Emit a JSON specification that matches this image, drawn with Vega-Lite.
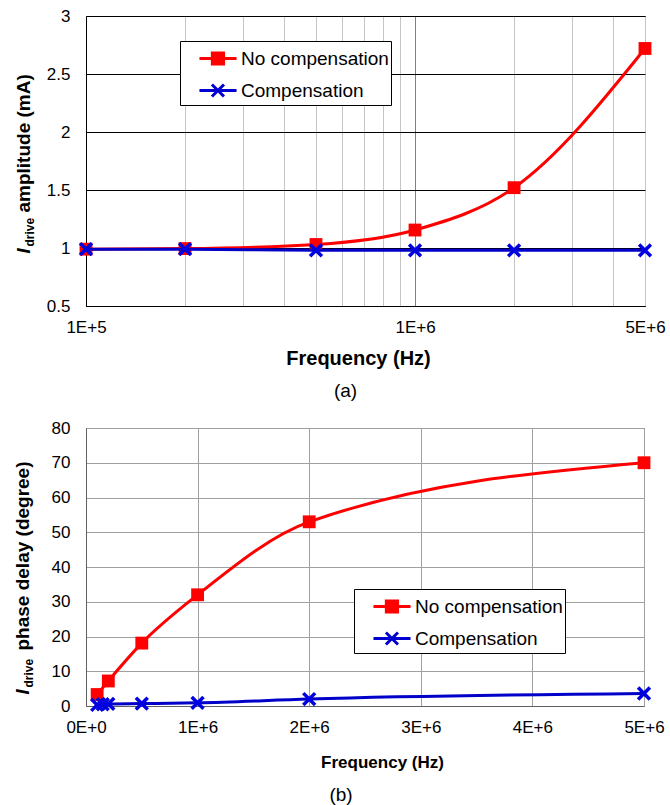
{
  "$schema": "https://vega.github.io/schema/vega-lite/v6.json",
  "padding": {"left": 12, "top": 6, "right": 2, "bottom": 0},
  "spacing": 16,
  "resolve": {
    "scale": {"fill": "independent", "stroke": "independent", "shape": "independent"},
    "legend": {"fill": "independent", "stroke": "independent", "shape": "independent"}
  },
  "datasets": {
    "amp": [
      {"f": 100000, "amp": 0.99, "series": "No compensation"},
      {"f": 200000, "amp": 0.995, "series": "No compensation"},
      {"f": 500000, "amp": 1.03, "series": "No compensation"},
      {"f": 1000000, "amp": 1.155, "series": "No compensation"},
      {"f": 2000000, "amp": 1.52, "series": "No compensation"},
      {"f": 5000000, "amp": 2.72, "series": "No compensation"},
      {"f": 100000, "amp": 0.99, "series": "Compensation"},
      {"f": 200000, "amp": 0.99, "series": "Compensation"},
      {"f": 500000, "amp": 0.98, "series": "Compensation"},
      {"f": 1000000, "amp": 0.98, "series": "Compensation"},
      {"f": 2000000, "amp": 0.98, "series": "Compensation"},
      {"f": 5000000, "amp": 0.98, "series": "Compensation"}
    ],
    "phase": [
      {"f": 100000, "phase": 3.3, "series": "No compensation"},
      {"f": 200000, "phase": 7.2, "series": "No compensation"},
      {"f": 500000, "phase": 18.1, "series": "No compensation"},
      {"f": 1000000, "phase": 32, "series": "No compensation"},
      {"f": 2000000, "phase": 53, "series": "No compensation"},
      {"f": 5000000, "phase": 70, "series": "No compensation"},
      {"f": 100000, "phase": 0.3, "series": "Compensation"},
      {"f": 150000, "phase": 0.5, "series": "Compensation"},
      {"f": 200000, "phase": 0.6, "series": "Compensation"},
      {"f": 500000, "phase": 0.7, "series": "Compensation"},
      {"f": 1000000, "phase": 0.9, "series": "Compensation"},
      {"f": 2000000, "phase": 2.0, "series": "Compensation"},
      {"f": 5000000, "phase": 3.6, "series": "Compensation"}
    ]
  },
  "vconcat": [
    {
      "width": 559,
      "height": 290,
      "view": {"stroke": "black", "strokeWidth": 1},
      "title": {"text": "(a)", "orient": "bottom", "anchor": "middle", "frame": "group", "fontSize": 19, "fontWeight": "normal", "offset": 14, "dx": -20, "color": "black"},
      "data": {"name": "amp"},
      "encoding": {
        "x": {
          "field": "f", "type": "quantitative",
          "scale": {"type": "log", "domain": [100000, 5000000], "nice": false},
          "axis": {
            "values": [100000, 200000, 300000, 400000, 500000, 600000, 700000, 800000, 900000, 1000000, 2000000, 3000000, 4000000, 5000000],
            "labelExpr": "datum.value == 100000 ? '1E+5' : datum.value == 1000000 ? '1E+6' : datum.value == 5000000 ? '5E+6' : ''",
            "labelOverlap": false, "labelFlush": false, "labelBound": false,
            "grid": true,
            "gridColor": {"condition": {"test": "datum.value == 1000000", "value": "#808080"}, "value": "#C4C4C4"},
            "ticks": false, "domainColor": "black",
            "labelFontSize": 17, "labelPadding": 13, "labelColor": "black",
            "title": "Frequency (Hz)", "titleFontSize": 20, "titlePadding": 13, "titleColor": "black", "titleX": 272
          }
        }
      },
      "layer": [
        {
          "transform": [{"filter": "datum.series == 'No compensation'"}],
          "mark": {"type": "line", "interpolate": "monotone", "color": "#FF0000", "strokeWidth": 3},
          "encoding": {
            "y": {
              "field": "amp", "type": "quantitative",
              "scale": {"domain": [0.5, 3], "nice": false, "zero": false},
              "axis": {
                "orient": "left", "values": [0.5, 1, 1.5, 2, 2.5, 3], "format": "~g",
                "grid": true, "gridColor": "black", "ticks": false, "domainColor": "black",
                "labelFontSize": 17, "labelPadding": 16, "labelColor": "black",
                "title": "amplitude (mA)", "titleFontSize": 19, "titleColor": "black",
                "titleAngle": -90, "titleAlign": "left", "titleBaseline": "alphabetic",
                "titleX": -57, "titleY": 196
              }
            }
          }
        },
        {
          "transform": [{"filter": "datum.series == 'No compensation'"}],
          "mark": {"type": "point", "shape": "square", "filled": true, "color": "#FF0000", "size": 165, "opacity": 1},
          "encoding": {
            "y": {
              "field": "amp", "type": "quantitative",
              "scale": {"domain": [0.5, 3], "nice": false, "zero": false},
              "axis": {
                "orient": "left", "labels": false, "ticks": false, "domain": false, "grid": false,
                "title": "I", "titleFontSize": 19, "titleFontStyle": "italic", "titleColor": "black",
                "titleAngle": -90, "titleAlign": "left", "titleBaseline": "alphabetic",
                "titleX": -57, "titleY": 237
              }
            }
          }
        },
        {
          "transform": [{"filter": "datum.series == 'Compensation'"}],
          "mark": {"type": "line", "interpolate": "monotone", "color": "#0000C8", "strokeWidth": 3},
          "encoding": {
            "y": {
              "field": "amp", "type": "quantitative",
              "scale": {"domain": [0.5, 3], "nice": false, "zero": false},
              "axis": {
                "orient": "left", "labels": false, "ticks": false, "domain": false, "grid": false,
                "title": "drive", "titleFontSize": 12, "titleColor": "black",
                "titleAngle": -90, "titleAlign": "left", "titleBaseline": "alphabetic",
                "titleX": -53, "titleY": 230
              }
            }
          }
        },
        {
          "transform": [{"filter": "datum.series == 'Compensation'"}],
          "mark": {"type": "point", "shape": "M-1,-1L1,1M-1,1L1,-1", "filled": false, "color": "#0000E0", "strokeWidth": 3.5, "size": 140, "opacity": 1},
          "encoding": {
            "y": {
              "field": "amp", "type": "quantitative",
              "scale": {"domain": [0.5, 3], "nice": false, "zero": false},
              "axis": null
            }
          }
        },
        {
          "transform": [{"filter": "false"}],
          "mark": {"type": "point", "filled": true, "opacity": 1},
          "encoding": {
            "fill": {
              "field": "series", "type": "nominal",
              "scale": {"domain": ["No compensation", "Compensation"], "range": ["#FF0000", "#0000D0"]},
              "legend": {
                "orient": "none", "legendX": 94, "legendY": 25, "title": null,
                "symbolSize": 784, "symbolStrokeWidth": 3,
                "labelFontSize": 19, "labelColor": "black", "labelOffset": 28, "labelLimit": 400,
                "labelExpr": "datum.label + '\u00a0\u00a0'",
                "rowPadding": 4, "padding": 2, "strokeColor": "black", "fillColor": "white"
              }
            },
            "stroke": {
              "field": "series", "type": "nominal",
              "scale": {"domain": ["No compensation", "Compensation"], "range": ["#FF0000", "#0000D0"]},
              "legend": {
                "orient": "none", "legendX": 94, "legendY": 25, "title": null,
                "symbolSize": 784, "symbolStrokeWidth": 3,
                "labelFontSize": 19, "labelColor": "black", "labelOffset": 28, "labelLimit": 400,
                "labelExpr": "datum.label + '\u00a0\u00a0'",
                "rowPadding": 4, "padding": 2, "strokeColor": "black", "fillColor": "white"
              }
            },
            "shape": {
              "field": "series", "type": "nominal",
              "scale": {"domain": ["No compensation", "Compensation"], "range": ["M0.14,0H2.79M1.06,-0.4H1.86V0.4H1.06Z", "M0.14,0H2.79M1.03,-0.43L1.89,0.43M1.03,0.43L1.89,-0.43"]},
              "legend": {
                "orient": "none", "legendX": 94, "legendY": 25, "title": null,
                "symbolSize": 784, "symbolStrokeWidth": 3,
                "labelFontSize": 19, "labelColor": "black", "labelOffset": 28, "labelLimit": 400,
                "labelExpr": "datum.label + '\u00a0\u00a0'",
                "rowPadding": 4, "padding": 2, "strokeColor": "black", "fillColor": "white"
              }
            }
          }
        }
      ],
      "resolve": {"scale": {"y": "independent"}}
    },
    {
      "width": 558,
      "height": 278,
      "view": {"stroke": "#707070", "strokeWidth": 1},
      "title": {"text": "(b)", "orient": "bottom", "anchor": "middle", "frame": "group", "fontSize": 19, "fontWeight": "normal", "offset": 16, "dx": -24, "color": "black"},
      "data": {"name": "phase"},
      "encoding": {
        "x": {
          "field": "f", "type": "quantitative",
          "scale": {"domain": [0, 5000000], "nice": false, "zero": true},
          "axis": {
            "values": [0, 1000000, 2000000, 3000000, 4000000, 5000000],
            "labelExpr": "datum.value == 0 ? '0E+0' : format(datum.value / 1000000, 'd') + 'E+6'",
            "labelOverlap": false, "labelFlush": false, "labelBound": false,
            "grid": true, "gridColor": "#A0A0A0",
            "ticks": false, "domainColor": "#606060",
            "labelFontSize": 17, "labelPadding": 13, "labelColor": "black",
            "title": "Frequency (Hz)", "titleFontSize": 17, "titlePadding": 19, "titleColor": "black", "titleX": 296
          }
        }
      },
      "layer": [
        {
          "transform": [{"filter": "datum.series == 'No compensation'"}],
          "mark": {"type": "line", "interpolate": "monotone", "color": "#FF0000", "strokeWidth": 3},
          "encoding": {
            "y": {
              "field": "phase", "type": "quantitative",
              "scale": {"domain": [0, 80], "nice": false},
              "axis": {
                "orient": "left", "values": [0, 10, 20, 30, 40, 50, 60, 70, 80],
                "grid": true, "gridColor": "#A0A0A0", "ticks": false, "domainColor": "#606060",
                "labelFontSize": 17, "labelPadding": 16, "labelColor": "black",
                "title": "phase delay (degree)", "titleFontSize": 19, "titleColor": "black",
                "titleAngle": -90, "titleAlign": "left", "titleBaseline": "alphabetic",
                "titleX": -58, "titleY": 222
              }
            }
          }
        },
        {
          "transform": [{"filter": "datum.series == 'No compensation'"}],
          "mark": {"type": "point", "shape": "square", "filled": true, "color": "#FF0000", "size": 165, "opacity": 1},
          "encoding": {
            "y": {
              "field": "phase", "type": "quantitative",
              "scale": {"domain": [0, 80], "nice": false},
              "axis": {
                "orient": "left", "labels": false, "ticks": false, "domain": false, "grid": false,
                "title": "I", "titleFontSize": 19, "titleFontStyle": "italic", "titleColor": "black",
                "titleAngle": -90, "titleAlign": "left", "titleBaseline": "alphabetic",
                "titleX": -58, "titleY": 266
              }
            }
          }
        },
        {
          "transform": [{"filter": "datum.series == 'Compensation'"}],
          "mark": {"type": "line", "interpolate": "monotone", "color": "#0000C8", "strokeWidth": 3},
          "encoding": {
            "y": {
              "field": "phase", "type": "quantitative",
              "scale": {"domain": [0, 80], "nice": false},
              "axis": {
                "orient": "left", "labels": false, "ticks": false, "domain": false, "grid": false,
                "title": "drive", "titleFontSize": 12, "titleColor": "black",
                "titleAngle": -90, "titleAlign": "left", "titleBaseline": "alphabetic",
                "titleX": -54, "titleY": 259
              }
            }
          }
        },
        {
          "transform": [{"filter": "datum.series == 'Compensation'"}],
          "mark": {"type": "point", "shape": "M-1,-1L1,1M-1,1L1,-1", "filled": false, "color": "#0000E0", "strokeWidth": 3.5, "size": 140, "opacity": 1},
          "encoding": {
            "y": {
              "field": "phase", "type": "quantitative",
              "scale": {"domain": [0, 80], "nice": false},
              "axis": null
            }
          }
        },
        {
          "transform": [{"filter": "false"}],
          "mark": {"type": "point", "filled": true, "opacity": 1},
          "encoding": {
            "fill": {
              "field": "series", "type": "nominal",
              "scale": {"domain": ["No compensation", "Compensation"], "range": ["#FF0000", "#0000D0"]},
              "legend": {
                "orient": "none", "legendX": 268, "legendY": 161, "title": null,
                "symbolSize": 784, "symbolStrokeWidth": 3,
                "labelFontSize": 19, "labelColor": "black", "labelOffset": 28, "labelLimit": 400,
                "labelExpr": "datum.label + '\u00a0\u00a0\u00a0'",
                "rowPadding": 4, "padding": 2, "strokeColor": "black", "fillColor": "white"
              }
            },
            "stroke": {
              "field": "series", "type": "nominal",
              "scale": {"domain": ["No compensation", "Compensation"], "range": ["#FF0000", "#0000D0"]},
              "legend": {
                "orient": "none", "legendX": 268, "legendY": 161, "title": null,
                "symbolSize": 784, "symbolStrokeWidth": 3,
                "labelFontSize": 19, "labelColor": "black", "labelOffset": 28, "labelLimit": 400,
                "labelExpr": "datum.label + '\u00a0\u00a0\u00a0'",
                "rowPadding": 4, "padding": 2, "strokeColor": "black", "fillColor": "white"
              }
            },
            "shape": {
              "field": "series", "type": "nominal",
              "scale": {"domain": ["No compensation", "Compensation"], "range": ["M0.14,0H2.79M1.06,-0.4H1.86V0.4H1.06Z", "M0.14,0H2.79M1.03,-0.43L1.89,0.43M1.03,0.43L1.89,-0.43"]},
              "legend": {
                "orient": "none", "legendX": 268, "legendY": 161, "title": null,
                "symbolSize": 784, "symbolStrokeWidth": 3,
                "labelFontSize": 19, "labelColor": "black", "labelOffset": 28, "labelLimit": 400,
                "labelExpr": "datum.label + '\u00a0\u00a0\u00a0'",
                "rowPadding": 4, "padding": 2, "strokeColor": "black", "fillColor": "white"
              }
            }
          }
        }
      ],
      "resolve": {"scale": {"y": "independent"}}
    }
  ],
  "config": {
    "font": "Liberation Sans",
    "axis": {"labelFont": "Liberation Sans", "titleFont": "Liberation Sans"},
    "legend": {"labelFont": "Liberation Sans"},
    "title": {"font": "Liberation Sans"}
  }
}
